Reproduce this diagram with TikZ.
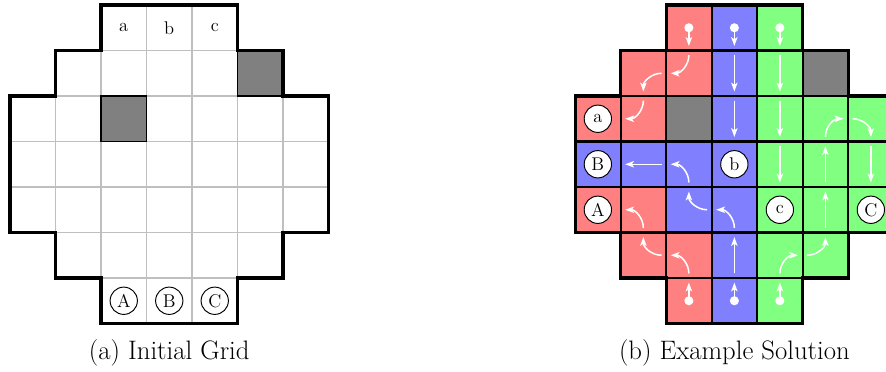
\documentclass[tikz,border=0pt]{standalone}
\usetikzlibrary{arrows.meta}

% path colours
\colorlet{pathred}{red!50}
\colorlet{pathblue}{blue!50}
\colorlet{pathgreen}{green!50}
\colorlet{blockgray}{black!50}

% direction (into the cell) for each side of a cell
\def\sideangT{-90}
\def\sideangB{90}
\def\sideangL{0}
\def\sideangR{180}

% arrow through cell (#1,#2) entering at side #3 and leaving at side #4
\newcommand\flowstep[4]{%
  \edef\flowout{\csname sideang#3\endcsname}%
  \edef\flowin{\csname sideang#4\endcsname}%
  \begin{scope}[shift={(#1,-#2-1)}]
    \coordinate (fT) at (0.5,0.9);
    \coordinate (fB) at (0.5,0.1);
    \coordinate (fL) at (0.1,0.5);
    \coordinate (fR) at (0.9,0.5);
    \draw[flowarrow] (f#3) to[out=\flowout, in=\flowin] (f#4);
  \end{scope}}

% start of a path: dot in cell (#1,#2) with arrow towards side #3
\newcommand\flowdot[3]{%
  \begin{scope}[shift={(#1,-#2-1)}]
    \coordinate (fC) at (0.5,0.5);
    \coordinate (fT) at (0.5,0.9);
    \coordinate (fB) at (0.5,0.1);
    \fill[white] (fC) circle (0.1);
    \draw[flowarrow] (fC) -- (f#3);
  \end{scope}}

\begin{document}
\begin{tikzpicture}[x=1cm,y=1cm,
  gridline/.style={draw=black!25, line width=0.8pt},
  blockcell/.style={fill=blockgray, draw=black, line width=0.9pt},
  cellborder/.style={draw=black, line width=1.3pt},
  flowarrow/.style={white, line width=0.95pt, -{Stealth[length=5.5pt,width=4pt,inset=1.3pt]}},
  endpoint/.style={circle, draw=black, fill=white, line width=0.6pt, minimum size=0.6cm, inner sep=0pt, font=\fontsize{11.5}{13}\selectfont},
  celllabel/.style={font=\fontsize{11.5}{13}\selectfont},
  caption/.style={anchor=base, font=\fontsize{16.7}{20}\selectfont},
  gridborder/.pic={\draw[line width=1.9pt, line join=miter]
    (2,0) -- (5,0) -- (5,-1) -- (6,-1) -- (6,-2) -- (7,-2) -- (7,-5) -- (6,-5) -- (6,-6) -- (5,-6) -- (5,-7)
    -- (2,-7) -- (2,-6) -- (1,-6) -- (1,-5) -- (0,-5) -- (0,-2) -- (1,-2) -- (1,-1) -- (2,-1) -- cycle;}]

\useasboundingbox (-0.2198,0.11) rectangle (19.253,-8.044);
\clip (-0.2198,0.11) rectangle (19.253,-8.044);

% ---------- (a) initial grid ----------
\begin{scope}
  \foreach \r/\a/\b in {0/2/4, 1/1/5, 2/0/6, 3/0/6, 4/0/6, 5/1/5, 6/2/4} {
    \foreach \c in {\a,...,\b} {
      \draw[gridline] (\c,-\r) rectangle ++(1,-1);
    }
  }
  \draw[blockcell] (5,-1) rectangle ++(1,-1);
  \draw[blockcell] (2,-2) rectangle ++(1,-1);
  \pic at (0,0) {gridborder};

  \node[celllabel] (ia) at (2.5,-0.5) {a};
  \node[celllabel] (ib) at (3.5,-0.5) {b};
  \node[celllabel] (ic) at (4.5,-0.5) {c};
  \node[endpoint] (iA) at (2.5,-6.5) {A};
  \node[endpoint] (iB) at (3.5,-6.5) {B};
  \node[endpoint] (iC) at (4.5,-6.5) {C};

  \node[caption] (capa) at (3.5,-7.80) {(a) Initial Grid};
\end{scope}

% ---------- (b) example solution ----------
\begin{scope}[shift={(12.42,0)}]
  \foreach \c/\r/\col in {
      2/0/pathred, 3/0/pathblue, 4/0/pathgreen,
      1/1/pathred, 2/1/pathred, 3/1/pathblue, 4/1/pathgreen, 5/1/blockgray,
      0/2/pathred, 1/2/pathred, 2/2/blockgray, 3/2/pathblue, 4/2/pathgreen, 5/2/pathgreen, 6/2/pathgreen,
      0/3/pathblue, 1/3/pathblue, 2/3/pathblue, 3/3/pathblue, 4/3/pathgreen, 5/3/pathgreen, 6/3/pathgreen,
      0/4/pathred, 1/4/pathred, 2/4/pathblue, 3/4/pathblue, 4/4/pathgreen, 5/4/pathgreen, 6/4/pathgreen,
      1/5/pathred, 2/5/pathred, 3/5/pathblue, 4/5/pathgreen, 5/5/pathgreen,
      2/6/pathred, 3/6/pathblue, 4/6/pathgreen} {
    \draw[cellborder, fill=\col] (\c,-\r) rectangle ++(1,-1);
  }
  \pic at (0,0) {gridborder};

  % row 0
  \flowdot{2}{0}{B}
  \flowdot{3}{0}{B}
  \flowdot{4}{0}{B}
  % row 1
  \flowstep{1}{1}{R}{B}
  \flowstep{2}{1}{T}{L}
  \flowstep{3}{1}{T}{B}
  \flowstep{4}{1}{T}{B}
  % row 2
  \flowstep{1}{2}{T}{L}
  \flowstep{3}{2}{T}{B}
  \flowstep{4}{2}{T}{B}
  \flowstep{5}{2}{B}{R}
  \flowstep{6}{2}{L}{B}
  % row 3
  \flowstep{1}{3}{R}{L}
  \flowstep{2}{3}{B}{L}
  \flowstep{4}{3}{T}{B}
  \flowstep{5}{3}{B}{T}
  \flowstep{6}{3}{T}{B}
  % row 4
  \flowstep{1}{4}{B}{L}
  \flowstep{2}{4}{R}{T}
  \flowstep{3}{4}{B}{L}
  \flowstep{5}{4}{B}{T}
  % row 5
  \flowstep{1}{5}{R}{T}
  \flowstep{2}{5}{B}{L}
  \flowstep{3}{5}{B}{T}
  \flowstep{4}{5}{B}{R}
  \flowstep{5}{5}{L}{T}
  % row 6
  \flowdot{2}{6}{T}
  \flowdot{3}{6}{T}
  \flowdot{4}{6}{T}

  \node[endpoint] (sa) at (0.5,-2.5) {a};
  \node[endpoint] (sB) at (0.5,-3.5) {B};
  \node[endpoint] (sA) at (0.5,-4.5) {A};
  \node[endpoint] (sb) at (3.5,-3.5) {b};
  \node[endpoint] (sc) at (4.5,-4.5) {c};
  \node[endpoint] (sC) at (6.5,-4.5) {C};

  \node[caption] (capb) at (3.5,-7.80) {(b) Example Solution};
\end{scope}
\end{tikzpicture}
\end{document}
